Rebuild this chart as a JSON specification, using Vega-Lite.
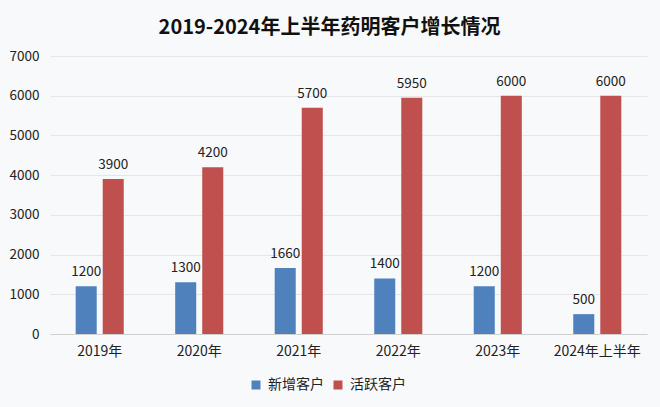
{
  "$schema": "https://vega.github.io/schema/vega-lite/v6.json",
  "autosize": "none",
  "width": 597,
  "height": 278,
  "padding": {"left": 50, "top": 56, "right": 13, "bottom": 73},
  "background": "#f8f9fa",
  "title": {
    "text": "2019-2024年上半年药明客户增长情况",
    "font": "Noto Sans CJK SC",
    "fontSize": 20,
    "fontWeight": "bold",
    "color": "#111111",
    "anchor": "middle",
    "frame": "group",
    "dx": -19,
    "offset": 11
  },
  "config": {
    "view": {"stroke": null},
    "font": "Noto Sans CJK SC"
  },
  "data": {
    "values": [
      {"year": "2019年", "type": "新增客户", "value": 1200},
      {"year": "2019年", "type": "活跃客户", "value": 3900},
      {"year": "2020年", "type": "新增客户", "value": 1300},
      {"year": "2020年", "type": "活跃客户", "value": 4200},
      {"year": "2021年", "type": "新增客户", "value": 1660},
      {"year": "2021年", "type": "活跃客户", "value": 5700},
      {"year": "2022年", "type": "新增客户", "value": 1400},
      {"year": "2022年", "type": "活跃客户", "value": 5950},
      {"year": "2023年", "type": "新增客户", "value": 1200},
      {"year": "2023年", "type": "活跃客户", "value": 6000},
      {"year": "2024年上半年", "type": "新增客户", "value": 500},
      {"year": "2024年上半年", "type": "活跃客户", "value": 6000}
    ]
  },
  "encoding": {
    "x": {
      "field": "year", "type": "nominal", "sort": null,
      "scale": {"paddingInner": 0.517, "paddingOuter": 0.258},
      "axis": {
        "title": null, "labelAngle": 0, "ticks": false,
        "domainColor": "#d0d0d0", "labelFontSize": 14, "labelColor": "#222222",
        "labelPadding": 10
      }
    },
    "xOffset": {
      "field": "type", "type": "nominal", "sort": ["新增客户", "活跃客户"],
      "scale": {"paddingInner": 0.222, "paddingOuter": 0}
    },
    "y": {
      "field": "value", "type": "quantitative",
      "scale": {"domain": [0, 7000], "nice": false},
      "axis": {
        "title": null, "values": [0,1000,2000,3000,4000,5000,6000,7000],
        "format": "d", "labelOverlap": false,
        "domain": false, "ticks": false, "gridColor": "#e6e6e6",
        "labelFontSize": 13.5, "labelColor": "#222222", "labelPadding": 11
      }
    }
  },
  "layer": [
    {
      "mark": {"type": "bar"},
      "encoding": {
        "color": {
          "field": "type", "type": "nominal", "sort": ["新增客户", "活跃客户"],
          "scale": {"domain": ["新增客户", "活跃客户"], "range": ["#4F81BD", "#C0504D"]},
          "legend": {
            "title": null, "orient": "none", "direction": "horizontal",
            "legendX": 199, "legendY": 322,
            "symbolType": "square", "symbolSize": 81, "symbolStrokeWidth": 0,
            "labelFontSize": 14, "labelColor": "#222222", "columnPadding": 7,
            "labelOffset": 5
          }
        }
      }
    },
    {
      "mark": {"type": "text", "baseline": "bottom", "dy": -7, "fontSize": 13.5, "color": "#222222"},
      "encoding": {
        "text": {"field": "value", "type": "quantitative"}
      }
    }
  ]
}
